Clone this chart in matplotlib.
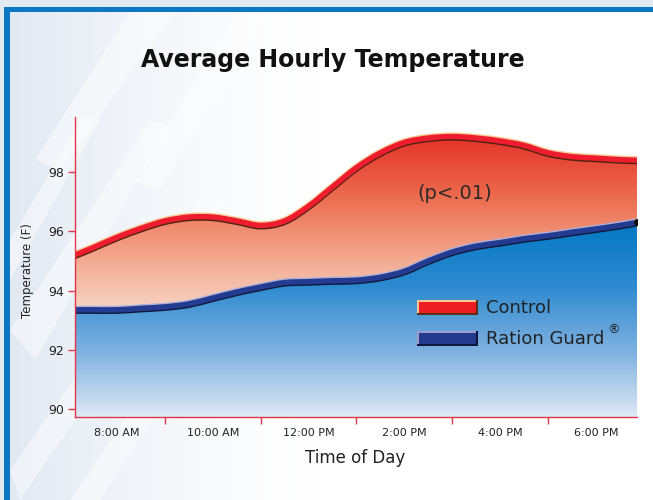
import numpy as np
import matplotlib
matplotlib.use('Agg')
import matplotlib.pyplot as plt
import matplotlib.patheffects as pe
from matplotlib.colors import LinearSegmentedColormap
from matplotlib.patches import Rectangle, Polygon, PathPatch
from matplotlib.path import Path

# Hourly readings (hours of the day, 24h clock)
hours = [7.12, 7.5, 8, 8.5, 9, 9.5, 10, 10.5, 11, 11.5, 12, 12.5, 13,
         13.5, 14, 14.5, 15, 15.5, 16, 16.5, 17, 17.5, 18, 18.5, 18.86]
control = [95.2, 95.45, 95.8, 96.1, 96.35, 96.48, 96.48, 96.35, 96.2, 96.35,
           96.85, 97.5, 98.15, 98.65, 99.0, 99.15, 99.2, 99.15, 99.05, 98.9,
           98.65, 98.52, 98.47, 98.42, 98.4]
ration_guard = [93.35, 93.35, 93.35, 93.4, 93.45, 93.55, 93.75, 93.95, 94.12,
                94.27, 94.3, 94.33, 94.35, 94.45, 94.65, 95.0, 95.3, 95.5,
                95.62, 95.75, 95.85, 95.97, 96.08, 96.2, 96.3]

tick_hours = [8, 10, 12, 14, 16, 18]
tick_labels = ['8:00 AM', '10:00 AM', '12:00 PM', '2:00 PM', '4:00 PM', '6:00 PM']
sep_hours = [9, 11, 13, 15, 17]
y_ticks = [90, 92, 94, 96, 98]

W, H = 653, 500
fig = plt.figure(figsize=(6.53, 5.0), dpi=100)
fig.patch.set_facecolor('white')

# background with pale streaks (pixel coordinates)
bg = fig.add_axes([0, 0, 1, 1], zorder=0)
bg.set_xlim(0, W)
bg.set_ylim(H, 0)
bg.axis('off')
shade = (np.clip(1 - np.linspace(0, W, 400) / 330.0, 0, 1) ** 1.5).reshape(1, -1)
bg_cmap = LinearSegmentedColormap.from_list('bg', ['#ffffff', '#e1e8f2'])
bg.imshow(shade, cmap=bg_cmap, vmin=0, vmax=1, aspect='auto', extent=[0, W, H, 0])
streaks = [
    [(10, 330), (150, 120), (170, 125), (35, 360)],
    [(10, 470), (200, 200), (222, 208), (20, 500)],
    [(70, 500), (240, 250), (255, 258), (100, 500)],
    [(130, 12), (175, 12), (60, 170), (35, 160)],
    [(235, 12), (270, 12), (160, 190), (135, 182)],
    [(10, 240), (85, 115), (100, 120), (10, 280)],
]
for pts in streaks:
    bg.add_patch(Polygon(pts, closed=True, facecolor='white', edgecolor='none', alpha=0.45))
bg.add_patch(Rectangle((0, 0), W, 7, facecolor='#e3e9f1', edgecolor='none'))
bg.add_patch(Rectangle((0, 0), 4, H, facecolor='#e3e9f1', edgecolor='none'))
bg.add_patch(Rectangle((4, 7), W, 5, facecolor='#0b77c5', edgecolor='none'))
bg.add_patch(Rectangle((4, 7), 6, H, facecolor='#0b77c5', edgecolor='none'))

# main chart
ax = fig.add_axes([75 / W, 1 - 417 / H, (637 - 75) / W, (417 - 117) / H], zorder=2)
ax.set_facecolor('none')

ymin, ymax = 89.73, 99.86
xmin, xmax = hours[0], hours[-1]


def smooth_verts(x, y):
    # cubic Bezier segments through the readings (Catmull-Rom tangents)
    p = np.column_stack([x, y])
    n = len(p)
    verts = [tuple(p[0])]
    for i in range(n - 1):
        p0 = p[max(i - 1, 0)]
        p1 = p[i]
        p2 = p[i + 1]
        p3 = p[min(i + 2, n - 1)]
        c1 = p1 + (p2 - p0) / 6.0
        c2 = p2 - (p3 - p1) / 6.0
        verts += [tuple(c1), tuple(c2), tuple(p2)]
    return verts


def curve_path(x, y):
    v = smooth_verts(x, y)
    codes = [Path.MOVETO] + [Path.CURVE4] * (len(v) - 1)
    return Path(v, codes)


def band_path(x, lo, hi):
    top = smooth_verts(x, hi)
    bot = smooth_verts(x[::-1], lo[::-1])
    verts = top + [bot[0]] + bot[1:] + [top[0]]
    codes = ([Path.MOVETO] + [Path.CURVE4] * (len(top) - 1) + [Path.LINETO]
             + [Path.CURVE4] * (len(bot) - 1) + [Path.CLOSEPOLY])
    return Path(verts, codes)


def gradient_fill(path, colors, y0, y1, z):
    cmap = LinearSegmentedColormap.from_list('g', colors)
    img = ax.imshow(np.linspace(1, 0, 256).reshape(-1, 1), cmap=cmap, vmin=0, vmax=1,
                    aspect='auto', extent=[xmin, xmax, y0, y1], origin='upper', zorder=z)
    img.set_clip_path(path, transform=ax.transData)


x = np.array(hours)
c = np.array(control)
r = np.array(ration_guard)
floor = np.full_like(x, ymin)

gradient_fill(band_path(x, r, c), ['#f9dccf', '#f3a88e', '#ec6a4e', '#e42f26'], 93.0, 99.3, 1)
gradient_fill(band_path(x, floor, r), ['#dfe9f6', '#7eb1e0', '#2d8ad0', '#0077c3'], ymin, 96.4, 1)


def bevel_line(y, main, light, dark):
    patch = PathPatch(curve_path(x, y), facecolor='none', edgecolor=main, lw=3.9,
                      capstyle='butt', joinstyle='round', zorder=4,
                      path_effects=[pe.Stroke(linewidth=3.9, foreground=light, offset=(0, 1.0)),
                                    pe.Stroke(linewidth=3.9, foreground=dark, offset=(0, -1.0)),
                                    pe.Normal()])
    ax.add_patch(patch)


bevel_line(c, '#ed1c2e', '#f8c690', '#4a2410')
bevel_line(r, '#233b90', '#aeb0da', '#111a3a')
ax.plot(hours[-1], ration_guard[-1], 'o', ms=4, color='#111111', zorder=5, clip_on=True)

ax.text(15.06, 97.29, '(p<.01)', ha='center', va='center', fontsize=14,
        color='#2a2a2a', zorder=5)

ax.set_xlim(xmin, xmax)
ax.set_ylim(ymin, ymax)
for s in ['top', 'right']:
    ax.spines[s].set_visible(False)
for s in ['left', 'bottom']:
    ax.spines[s].set_color('#e2364a')
    ax.spines[s].set_linewidth(1.0)
    ax.spines[s].set_zorder(6)

ax.set_yticks(y_ticks)
ax.set_yticklabels([str(v) for v in y_ticks])
ax.tick_params(axis='y', length=5, width=1, color='#e2364a', labelsize=9,
               labelcolor='#222222', pad=3)
ax.set_xticks(tick_hours)
ax.set_xticklabels(tick_labels)
ax.tick_params(axis='x', which='major', length=0, labelsize=8, labelcolor='#222222', pad=8)
ax.set_xticks(sep_hours, minor=True)
ax.tick_params(axis='x', which='minor', length=5, width=1, color='#e2364a')

# overlay for titles and legend (pixel coordinates)
ov = fig.add_axes([0, 0, 1, 1], zorder=5)
ov.set_xlim(0, W)
ov.set_ylim(H, 0)
ov.axis('off')
ov.text(333, 60, 'Average Hourly Temperature', ha='center', va='center',
        fontsize=17, fontweight='bold', color='#111111')
ov.text(355, 458, 'Time of Day', ha='center', va='center', fontsize=12, color='#222222')
ov.text(27, 271, 'Temperature (F)', ha='center', va='center', rotation=90,
        fontsize=8.5, color='#222222')


def legend_key(y, dark, light, fill):
    ov.add_patch(Rectangle((417, y), 61, 15, facecolor=dark, edgecolor='none'))
    ov.add_patch(Rectangle((417, y), 59, 13, facecolor=light, edgecolor='none'))
    ov.add_patch(Rectangle((419, y + 2), 57, 11, facecolor=fill, edgecolor='none'))


legend_key(300, '#5b2e12', '#f8c690', '#ed1c24')
legend_key(331, '#10163c', '#9d9dcc', '#243a8f')
ov.text(486, 308, 'Control', ha='left', va='center', fontsize=13, color='#222222')
ov.text(486, 339, 'Ration Guard', ha='left', va='center', fontsize=13, color='#222222')
ov.text(607, 330, '®', ha='left', va='center', fontsize=9, color='#222222')

plt.savefig('out.png', dpi=100)
plt.close()
